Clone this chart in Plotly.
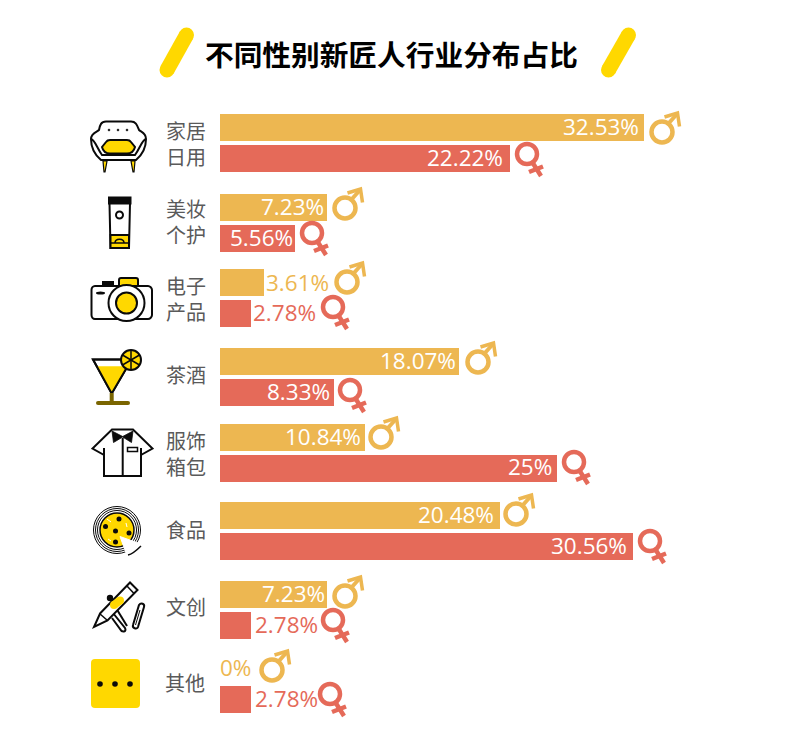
import plotly.graph_objects as go

# 数据
categories = ["家居日用", "美妆个护", "电子产品", "茶酒", "服饰箱包", "食品", "文创", "其他"]
male_share = [32.53, 7.23, 3.61, 18.07, 10.84, 20.48, 7.23, 0]
female_share = [22.22, 5.56, 2.78, 8.33, 25, 30.56, 2.78, 2.78]
# 图上量到的条长(原图不是严格按比例画的)
male_bar = [424, 107, 44, 239, 145, 280, 107, 0]
female_bar = [290, 75, 31, 114, 337, 413, 31, 31]
label_text = ["家居<br>日用", "美妆<br>个护", "电子<br>产品", "茶酒", "服饰<br>箱包", "食品", "文创", "其他"]

# 版式,单位都是页面像素
W, H = 790, 738
BASE = 220
BAR_H = 27
male_y = [127.5, 207.5, 282.5, 361.5, 437.5, 515.5, 594.5, 669]
female_y = [158.5, 238.5, 313.5, 392.5, 468.5, 546.5, 625.5, 699.5]
male_text = [(639, "r", 128), (324, "r", 208), (266, "l", 284), (456, "r", 362),
             (361, "r", 438), (494, "r", 516), (325, "r", 595), (220, "l", 669)]
female_text = [(503, "r", 159), (293, "r", 239), (253, "l", 314), (330, "r", 393),
               (552, "r", 468), (627, "r", 547), (255, "l", 626), (255, "l", 700)]
male_sign = [(662, 132), (345, 208), (347, 282), (478, 362), (381, 437), (516, 514), (345, 596), (272, 670)]
female_sign = [(527, 154), (312, 233), (333, 307), (350, 390), (574, 462), (650, 541), (333, 620), (330, 694)]
label_pos = [(186, 143), (186, 221), (186, 298), (186, 374), (186, 453), (186, 529), (186, 606), (185, 682)]

MALE = "#EDB751"
FEMALE = "#E56A59"
YELLOW = "#FFD800"
BLACK = "#0a0a0a"

shapes = []


def path(d, fill="rgba(0,0,0,0)", color=BLACK, width=2):
    shapes.append(dict(type="path", path=d, fillcolor=fill, line=dict(color=color, width=width)))


def seg(x0, y0, x1, y1, color=BLACK, width=2):
    shapes.append(dict(type="line", x0=x0, y0=y0, x1=x1, y1=y1, line=dict(color=color, width=width)))


def circle(cx, cy, r, fill="rgba(0,0,0,0)", color=BLACK, width=2):
    shapes.append(dict(type="circle", x0=cx - r, x1=cx + r, y0=cy - r, y1=cy + r,
                       fillcolor=fill, line=dict(color=color, width=width)))


def pill(x0, y0, x1, y1, w, color):
    seg(x0, y0, x1, y1, color, w)
    circle(x0, y0, w / 2, color, color, 0)
    circle(x1, y1, w / 2, color, color, 0)


def male_icon(cx, cy):
    circle(cx, cy, 10.5, color=MALE, width=4.5)
    seg(cx + 6, cy - 8, cx + 15, cy - 18, MALE, 4)
    path(f"M{cx + 2.5},{cy - 15} L{cx + 15.5},{cy - 19} L{cx + 17.5},{cy - 5.5}", color=MALE, width=3.5)


def female_icon(cx, cy):
    circle(cx, cy, 10, color=FEMALE, width=4.5)
    seg(cx + 5.5, cy + 8.5, cx + 14, cy + 22, FEMALE, 4.5)
    seg(cx + 2, cy + 18, cx + 16, cy + 12.5, FEMALE, 4.5)


# 标题两边的黄条
pill(186.5, 35, 167, 70, 15, YELLOW)
pill(628.5, 35, 608.5, 70, 15, YELLOW)

# 沙发
path("M101,160 C95,155 91,148 91,139 C91,133 97,132 99,130 C100,125 101,121.5 106,121.5 "
     "L131,121.5 C136,121.5 137,125 139,130 C141,132 146,133 146,139 C146,148 142,155 136,160 Z", "white")
path("M91,139 C95,140 97,148 102,155 L135,155 C140,148 142,140 146,139")
path("M102,147 L106,142 C107,140.5 108,140 110,140 L127,140 C129,140 130,140.5 131,142 L135,147 "
     "C134,151 131,153.5 127,153.5 L110,153.5 C106,153.5 103,151 102,147 Z", YELLOW)
path("M103,161 L107,161 L105,172 L104,172 Z", YELLOW, width=1.2)
path("M131,161 L135,161 L134,172 L133,172 Z", YELLOW, width=1.2)
for x in [109, 118, 127]:
    circle(x, 130, 1, BLACK, BLACK, 0.5)

# 软管
path("M109,197.5 L130.5,197.5 L130.5,203.5 L109,203.5 Z", BLACK)
path("M109.5,203.5 L130,203.5 L129,248 L110.5,248 Z", "white")
path("M110.5,235 L129,235 L129,248 L110.5,248 Z", YELLOW)
circle(119.5, 215, 3.5)
path("M115,243 C115,238 124,238 124,243", width=1.5)
seg(110.5, 243, 129, 243, width=1.5)

# 相机
path("M119,286 L119,280 C119,278.5 120,278 121,278 L136,278 C137,278 138,278.5 138,280 L138,286 Z", YELLOW)
path("M103,286 L103,282 L113,282 L113,286 Z", BLACK)
path("M95,286 L148,286 C150,286 152,288 152,290 L152,315 C152,317 150,319 148,319 "
     "L95,319 C93,319 91.5,317 91.5,315 L91.5,290 C91.5,288 93,286 95,286 Z", "white")
circle(126.5, 303, 18, "white")
circle(126.5, 303, 10.5, YELLOW)
shapes.append(dict(type="circle", x0=96, x1=105, y0=291.5, y1=294.5, fillcolor=BLACK, line=dict(width=0)))

# 鸡尾酒
path("M93,359.5 L131.5,359.5 L111.7,393.5 Z", "white")
path("M97,366.5 L127.5,366.5 L111.7,393.5 Z", YELLOW, color=YELLOW, width=0.5)
path("M93,359.5 L131.5,359.5 L111.7,393.5 Z")
seg(111.7, 393, 111.7, 402, "#7a6500", 4)
pill(98, 403, 128, 403, 4, "#7a6500")
circle(131, 360, 10, YELLOW)
seg(131, 350, 131, 370, width=1.5)
seg(122.5, 355, 139.5, 365, width=1.5)
seg(122.5, 365, 139.5, 355, width=1.5)

# 衬衫
path("M112,429.5 L133,429.5 L152.5,448.5 L141,455 L141,476 L104,476 L104,455 L92.5,448.5 Z", "white")
path("M112,431 L122.7,436.5 L133,431 L131.5,442.5 L122.7,437 L113.5,442.5 Z", BLACK, width=0.8)
seg(122.7, 438, 122.7, 476)
seg(104, 448, 104, 455)
seg(141, 448, 141, 455)
path("M127.5,447.5 L137.5,447.5 L137.5,451.5 L127.5,451.5 Z", width=1.5)

# 披萨
circle(117, 530, 23.5, width=1)
circle(117, 530, 21.5, width=1)
circle(117, 530, 19.5, width=1)
circle(117, 530, 17, YELLOW, width=1.5)
for cx, cy in [(119, 519), (105.5, 526.5), (115.5, 531), (129, 533), (115.5, 542)]:
    circle(cx, cy, 2.5, BLACK, BLACK, 0)
seg(107, 519, 111, 522, "white", 1)
seg(126, 523, 127, 527, "white", 1)
seg(108, 539, 111, 541, "white", 1)
path("M120,536.5 L141,544 L127,555.5 Z", "white", color="white", width=1)
path("M128,555 C133,554 137,550 141,546", width=1.5)

# 笔
circle(110, 598, 3.2, BLACK, BLACK, 0)
path("M113,613 L125,628 C127,632 122,633 120,629 L112,618", "white")
seg(116, 608, 127, 626)
path("M100,613.5 L130,582.5 L137.5,590 L107.5,620.5 L94,627 Z", "white")
seg(126.5, 585.5, 134, 593.5, width=1.5)
seg(99.5, 613.5, 107.5, 620.5, width=1.5)
pill(114, 605, 120, 600.5, 8, YELLOW)
path("M133,625 C132,628 137,630 138,627 L144,607 C145,604 141,602 139,605 Z", "white")
seg(135.5, 625, 140, 610, width=1)

# 其他
path("M95,659 L136,659 Q140,659 140,663 L140,704 Q140,708 136,708 L95,708 Q91,708 91,704 L91,663 Q91,659 95,659 Z",
     YELLOW, YELLOW, 0)
for x in [100, 115, 130]:
    circle(x, 684, 2.8, BLACK, BLACK, 0)

for x, y in male_sign:
    male_icon(x, y)
for x, y in female_sign:
    female_icon(x, y)

annotations = [dict(text="不同性别新匠人行业分布占比", x=391.5, y=53, showarrow=False,
                    font=dict(family="Noto Sans CJK SC", size=28.7, color="black", weight=700))]
for txt, (x, y) in zip(label_text, label_pos):
    annotations.append(dict(text=txt, x=x, y=y, showarrow=False,
                            font=dict(family="Noto Sans CJK SC", size=20, color="#5a5a5a")))


def value_text(value, pos, fill):
    x, side, y = pos
    color = "white" if side == "r" else fill
    return dict(text=f"{value:g}%", x=x + (2 if side == "r" else -2), y=y - 1.5, showarrow=False,
                xanchor="right" if side == "r" else "left",
                font=dict(family="Open Sans", size=22.5, color=color, weight=400))


for i in range(len(categories)):
    annotations.append(value_text(male_share[i], male_text[i], MALE))
    annotations.append(value_text(female_share[i], female_text[i], FEMALE))

fig = go.Figure()
fig.add_trace(go.Bar(x=male_bar, y=male_y, base=BASE, width=BAR_H, orientation="h",
                     name="男", marker=dict(color=MALE, line=dict(width=0)),
                     customdata=categories, hoverinfo="skip"))
fig.add_trace(go.Bar(x=female_bar, y=female_y, base=BASE, width=BAR_H, orientation="h",
                     name="女", marker=dict(color=FEMALE, line=dict(width=0)),
                     customdata=categories, hoverinfo="skip"))

fig.update_layout(
    width=W, height=H,
    margin=dict(l=0, r=0, t=0, b=0),
    barmode="overlay",
    showlegend=False,
    paper_bgcolor="white",
    plot_bgcolor="white",
    xaxis=dict(range=[0, W], visible=False, fixedrange=True),
    yaxis=dict(range=[H, 0], visible=False, fixedrange=True),
    shapes=shapes,
    annotations=annotations,
)

fig.write_html("out.html", config=dict(displayModeBar=False), post_script="document.body.style.margin='0';")
